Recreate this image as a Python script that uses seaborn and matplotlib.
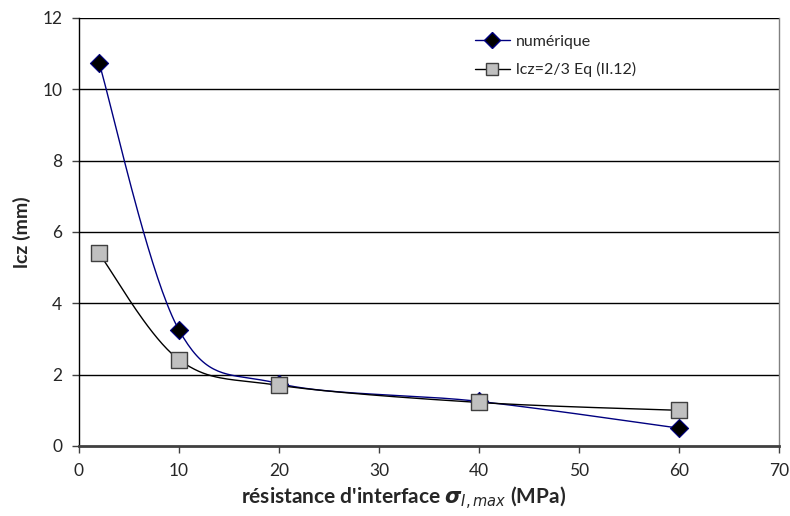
import numpy as np
import matplotlib
matplotlib.use('Agg')
import matplotlib.pyplot as plt
import seaborn as sns
from matplotlib.lines import Line2D

# values
sigma = [2, 10, 20, 40, 60]
lcz_num = [10.75, 3.25, 1.75, 1.25, 0.5]
lcz_eq = [5.4, 2.42, 1.7, 1.22, 1.0]
x_ticks = [0, 10, 20, 30, 40, 50, 60, 70]
y_ticks = [0, 2, 4, 6, 8, 10, 12]


def smooth(x, y, n=40):
    # Excel-like smoothed line: cubic Bezier segments, Catmull-Rom control points
    p = np.column_stack([x, y]).astype(float)
    pts = []
    for i in range(len(p) - 1):
        p0 = p[i - 1] if i > 0 else p[i]
        p3 = p[i + 2] if i + 2 < len(p) else p[i + 1]
        c1 = p[i] + (p[i + 1] - p0) / 6
        c2 = p[i + 1] - (p3 - p[i]) / 6
        t = np.linspace(0, 1, n)[:, None]
        seg = ((1 - t) ** 3 * p[i] + 3 * (1 - t) ** 2 * t * c1
               + 3 * (1 - t) * t ** 2 * c2 + t ** 3 * p[i + 1])
        pts.append(seg)
    pts = np.vstack(pts)
    return pts[:, 0], pts[:, 1]


sns.set_style('white')
plt.rcParams['font.family'] = ['Lato', 'DejaVu Sans']
plt.rcParams['mathtext.fontset'] = 'dejavusans'

fig = plt.figure(figsize=(7.9, 5.16), dpi=100)
ax = fig.add_axes([0.1, 0.1357, 0.886, 0.8295])

# horizontal grid
for v in y_ticks[1:]:
    ax.axhline(v, color='black', lw=1.0, zorder=0)

sx, sy = smooth(sigma, lcz_num)
ax.plot(sx, sy, color='#000080', lw=1.0, zorder=2)
sx, sy = smooth(sigma, lcz_eq)
ax.plot(sx, sy, color='black', lw=1.0, zorder=2)

sns.scatterplot(x=sigma, y=lcz_num, ax=ax, marker='D', s=85, color='black',
                edgecolor='#000080', linewidth=0.8, zorder=3)
sns.scatterplot(x=sigma, y=lcz_eq, ax=ax, marker='s', s=125, color='#c0c0c0',
                edgecolor='#404040', linewidth=1.0, zorder=3)

ax.set_xlim(0, 70)
ax.set_ylim(0, 12)
ax.set_xticks(x_ticks)
ax.set_yticks(y_ticks)
ax.tick_params(axis='both', direction='out', length=5, width=1, color='#404040',
               labelsize=12.5, pad=7, bottom=True, left=True)

ax.spines['top'].set_visible(False)
ax.spines['right'].set_color('#808080')
ax.spines['right'].set_linewidth(1.0)
ax.spines['left'].set_color('black')
ax.spines['left'].set_linewidth(1.0)
ax.spines['bottom'].set_color('#404040')
ax.spines['bottom'].set_linewidth(2.0)

ax.set_ylabel('lcz (mm)', fontsize=14, fontweight='bold', labelpad=8)
ax.set_xlabel(r"résistance d'interface $\mathbfit{\sigma}_{\mathit{I,max}}$ (MPa)",
              fontsize=15, fontweight='bold')
ax.xaxis.set_label_coords(0.464, -0.09)

handles = [
    Line2D([], [], color='#000080', lw=1.0, marker='D', markersize=8,
           markerfacecolor='black', markeredgecolor='#000080'),
    Line2D([], [], color='black', lw=1.0, marker='s', markersize=9,
           markerfacecolor='#c0c0c0', markeredgecolor='#404040'),
]
ax.legend(handles, ['numérique', 'lcz=2/3 Eq (II.12)'], loc='upper left',
          bbox_to_anchor=(0.545, 0.995), frameon=False, fontsize=11.5,
          handlelength=2.2, labelspacing=0.85, handletextpad=0.4)

fig.savefig('out.png', dpi=100, facecolor='white')
